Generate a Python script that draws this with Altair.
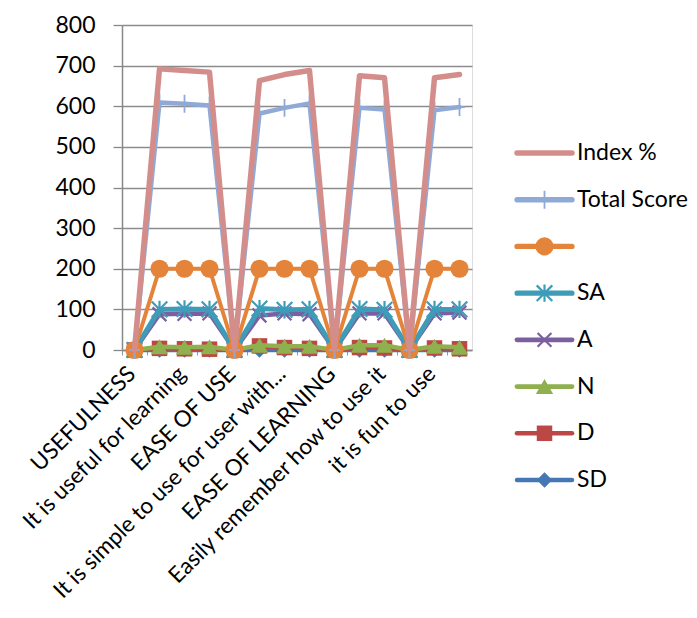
import altair as alt
import pandas as pd

categories = [
    "USEFULNESS", "It helps me be more effective", "It is useful for learning",
    "It saves me time", "EASE OF USE", "It is easy to use",
    "It is simple to use for user with...", "It requires few steps",
    "EASE OF LEARNING", "I learned to use it quickly",
    "Easily remember how to use it", "SATISFACTION", "it is fun to use",
    "I am satisfied with it",
]
shown_labels = categories[::2]

index_pct = [0, 692, 688, 684, 0, 663, 678, 688, 0, 675, 670, 0, 670, 678]
total_score = [0, 609, 606, 602, 0, 582, 596, 607, 0, 596, 592, 0, 590, 598]
respondents = [0, 200, 200, 200, 0, 200, 200, 200, 0, 200, 200, 0, 200, 200]
sa = [0, 100, 101, 100, 0, 102, 99, 100, 0, 101, 99, 0, 100, 100]
a = [0, 88, 89, 90, 0, 85, 90, 88, 0, 90, 90, 0, 90, 92]
n = [0, 8, 7, 8, 0, 12, 9, 9, 0, 12, 12, 0, 9, 7]
d = [0, 4, 3, 2, 0, 10, 6, 4, 0, 6, 5, 0, 5, 3]
sd = [0, 0, 0, 0, 0, 0, 0, 0, 0, 0, 0, 0, 0, 0]

legend_keys = ["Index %", "Total Score", "blank", "SA", "A", "N", "D", "SD"]
legend_labels = ["Index %", "Total Score", "", "SA", "A", "N", "D", "SD"]
colors = ["#D38E8C", "#8FAAD6", "#E3843A", "#3F9CB8", "#7B5FA0", "#8FB04E", "#BB4845", "#4677B5"]

series_values = {
    "Index %": index_pct, "Total Score": total_score, "blank": respondents,
    "SA": sa, "A": a, "N": n, "D": d, "SD": sd,
}

rows = []
for k, vals in series_values.items():
    for c, v in zip(categories, vals):
        rows.append({"key": k, "category": c, "value": v})
df = pd.DataFrame(rows)
legend_df = pd.DataFrame({"key": legend_keys, "label": legend_labels})

FONT = "Lato"
FS_Y = 23
FS_X = 22.5
FS = 23
STAR = "M0,-1V1M-0.9,-0.9L0.9,0.9M-0.9,0.9L0.9,-0.9"
XMARK = "M-1,-1L1,1M-1,1L1,-1"
PLUS = "M0,-1V1M-0.6,0H0.6"

markers = {
    "Index %": None,
    "Total Score": dict(shape=PLUS, size=320, filled=False, strokeWidth=1.8),
    "blank": dict(shape="circle", size=330, filled=True),
    "SA": dict(shape=STAR, size=300, filled=False, strokeWidth=2.2),
    "A": dict(shape=XMARK, size=190, filled=False, strokeWidth=2.2),
    "N": dict(shape="triangle-up", size=300, filled=True),
    "D": dict(shape="square", size=240, filled=True),
    "SD": dict(shape="diamond", size=240, filled=True),
}
widths = {"Index %": 5.5, "Total Score": 4.5, "blank": 4, "SA": 5, "A": 4.5,
          "N": 4.5, "D": 4.5, "SD": 4.5}

color = alt.Color("key:N", scale=alt.Scale(domain=legend_keys, range=colors), legend=None)
x_enc = alt.X(
    "category:N", sort=categories, title=None,
    scale=alt.Scale(type="band", paddingInner=0, paddingOuter=0, domain=categories),
    axis=alt.Axis(values=shown_labels, labelAngle=-45, labelAlign="right",
                  labelBaseline="middle", labelFontSize=FS_X, labelFont=FONT,
                  labelColor="black", labelPadding=15, labelOffset=-3,
                  tickBand="extent", tickSize=5, tickColor="#999999",
                  domainColor="#888888", domainWidth=1.5, labelOverlap=False,
                  labelLimit=500),
)
y_enc = alt.Y(
    "value:Q", title=None,
    scale=alt.Scale(domain=[0, 800], nice=False),
    axis=alt.Axis(values=list(range(0, 801, 100)), labelFontSize=FS_Y, labelFont=FONT,
                  labelColor="black", labelPadding=18, tickSize=9,
                  tickColor="#888888", domainColor="#888888", domainWidth=1.5,
                  gridColor="#8C8C8C", gridWidth=1.3, tickWidth=1.3),
)

draw_order = ["SD", "D", "N", "A", "SA", "blank", "Total Score", "Index %"]
main_layers = []
for k in draw_order:
    base = alt.Chart(df).transform_filter(alt.datum.key == k)
    main_layers.append(
        base.mark_line(strokeWidth=widths[k], strokeJoin="round", strokeCap="round")
        .encode(x=x_enc, y=y_enc, color=color)
    )
    m = markers[k]
    if m:
        main_layers.append(
            base.mark_point(opacity=1, **m).encode(x=x_enc, y=y_enc, color=color)
        )
main = alt.layer(*main_layers)

leg_y = alt.Y("key:N", scale=alt.Scale(type="point", domain=legend_keys,
                                        range=[128, 455], padding=0), axis=None)
leg_base = alt.Chart(legend_df)
legend_layers = [
    leg_base.mark_rule(strokeCap="round").encode(
        x=alt.value(395), x2=alt.value(450), y=leg_y, color=color,
        strokeWidth=alt.StrokeWidth("key:N", scale=alt.Scale(domain=legend_keys,
            range=[widths[k] for k in legend_keys]), legend=None)),
    leg_base.mark_text(align="left", baseline="middle", fontSize=FS, font=FONT,
                       color="black").encode(x=alt.value(455), y=leg_y, text="label:N"),
]
for k in legend_keys:
    m = markers[k]
    if m:
        legend_layers.append(
            leg_base.transform_filter(alt.datum.key == k)
            .mark_point(opacity=1, **m)
            .encode(x=alt.value(422.5), y=leg_y, color=color)
        )
legend = alt.layer(*legend_layers)

chart = (
    alt.layer(main, legend)
    .resolve_scale(y="independent")
    .properties(width=350, height=325,
                autosize=alt.AutoSizeParams(type="none"),
                padding={"left": 114, "top": 17, "right": 216, "bottom": 259})
    .configure_view(stroke=None)
    .configure(background="white")
)

chart.save("out.html", embed_options={"renderer": "svg", "actions": False})
